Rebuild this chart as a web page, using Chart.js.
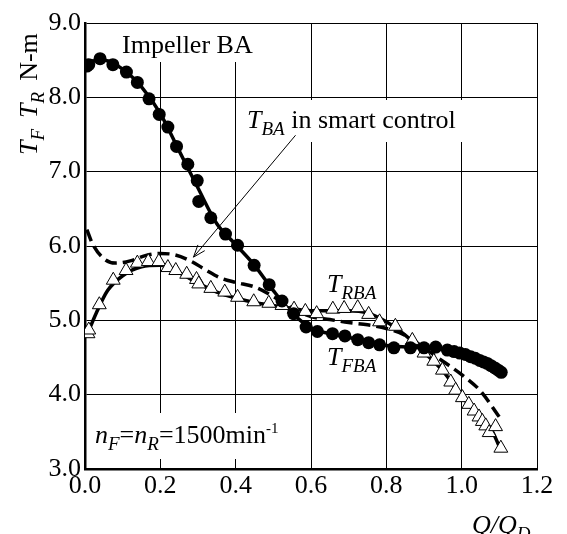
<!DOCTYPE html>
<html>
<head>
<meta charset="utf-8">
<script src="https://cdn.jsdelivr.net/npm/chart.js@4"></script>
<style>
  body { margin: 0; background: #fff; }
  #wrap { width: 567px; height: 534px; }
</style>
</head>
<body>
<div id="wrap"><canvas id="chart"></canvas></div>
<script>
// measured points, front impeller torque T_FBA (filled circles)
const tfQ = [0.005, 0.010, 0.040, 0.074, 0.110, 0.139, 0.170, 0.197, 0.220, 0.243, 0.273, 0.298, 0.302, 0.334, 0.373, 0.405, 0.449, 0.489, 0.523, 0.554, 0.587, 0.617, 0.657, 0.690, 0.724, 0.753, 0.782, 0.820, 0.864, 0.900, 0.931, 0.962, 0.980, 0.995, 1.010, 1.024, 1.036, 1.048, 1.058, 1.068, 1.078, 1.088, 1.097, 1.105];
const tfT = [8.42, 8.44, 8.52, 8.44, 8.34, 8.20, 7.98, 7.77, 7.60, 7.34, 7.10, 6.88, 6.60, 6.38, 6.16, 6.01, 5.74, 5.48, 5.26, 5.09, 4.91, 4.85, 4.82, 4.79, 4.74, 4.70, 4.67, 4.63, 4.63, 4.63, 4.64, 4.60, 4.58, 4.56, 4.54, 4.51, 4.49, 4.46, 4.44, 4.42, 4.39, 4.36, 4.33, 4.30];

// measured points, rear impeller torque T_RBA (open triangles)
const trQ = [0.008, 0.010, 0.038, 0.075, 0.109, 0.139, 0.168, 0.196, 0.220, 0.241, 0.270, 0.296, 0.302, 0.334, 0.371, 0.405, 0.448, 0.488, 0.523, 0.555, 0.585, 0.615, 0.658, 0.688, 0.724, 0.753, 0.782, 0.824, 0.869, 0.900, 0.926, 0.949, 0.971, 0.984, 1.002, 1.019, 1.033, 1.046, 1.055, 1.064, 1.073, 1.090, 1.104];
const trT = [4.82, 4.87, 5.21, 5.54, 5.67, 5.77, 5.79, 5.79, 5.71, 5.67, 5.62, 5.55, 5.49, 5.43, 5.38, 5.31, 5.25, 5.23, 5.20, 5.15, 5.12, 5.09, 5.15, 5.16, 5.17, 5.08, 4.98, 4.92, 4.73, 4.56, 4.45, 4.33, 4.17, 4.06, 3.96, 3.87, 3.78, 3.70, 3.64, 3.58, 3.49, 3.57, 3.28];

// fitted curves
const fitFQ = [0.0, 0.05, 0.1, 0.15, 0.2, 0.25, 0.3, 0.35, 0.4, 0.45, 0.5, 0.55, 0.6, 0.65, 0.7, 0.8, 0.9, 0.95, 1.0, 1.05, 1.1];
const fitFT = [8.48, 8.50, 8.38, 8.14, 7.78, 7.28, 6.78, 6.30, 6.02, 5.74, 5.40, 5.10, 4.90, 4.82, 4.77, 4.66, 4.63, 4.61, 4.55, 4.46, 4.31];
const fitRQ = [0.005, 0.03, 0.06, 0.1, 0.15, 0.2, 0.25, 0.3, 0.35, 0.4, 0.45, 0.5, 0.55, 0.6, 0.65, 0.7, 0.75, 0.8, 0.85, 0.9, 0.95, 1.0, 1.05, 1.08, 1.1];
const fitRT = [4.80, 5.10, 5.40, 5.60, 5.72, 5.74, 5.64, 5.50, 5.38, 5.30, 5.24, 5.20, 5.16, 5.13, 5.13, 5.13, 5.10, 4.98, 4.80, 4.57, 4.32, 3.98, 3.68, 3.52, 3.30];

// T_BA in smart control (dashed)
const smartQ = [0.005, 0.02, 0.05, 0.08, 0.12, 0.16, 0.2, 0.24, 0.28, 0.32, 0.36, 0.4, 0.45, 0.5, 0.55, 0.6, 0.65, 0.7, 0.75, 0.8, 0.85, 0.9, 0.95, 1.0, 1.05, 1.1];
const smartT = [6.22, 6.03, 5.83, 5.77, 5.80, 5.87, 5.90, 5.88, 5.80, 5.68, 5.57, 5.51, 5.45, 5.32, 5.16, 5.05, 5.01, 4.97, 4.94, 4.89, 4.80, 4.63, 4.45, 4.27, 4.05, 3.70];

const xTicks = [0, 0.2, 0.4, 0.6, 0.8, 1.0, 1.2];
const yTicks = [3, 4, 5, 6, 7, 8, 9];

const FONT = '"Liberation Serif", "Times New Roman", serif';
const pts = (xs, ys) => xs.map((x, i) => ({ x: x, y: ys[i] }));

// draw a run of text pieces (italic / subscript / superscript)
function drawRich(ctx, x, y, parts, rotate) {
  ctx.save();
  ctx.translate(x, y);
  if (rotate) ctx.rotate(-Math.PI / 2);
  ctx.fillStyle = '#000';
  ctx.textAlign = 'left';
  ctx.textBaseline = 'alphabetic';
  let cx = 0;
  parts.forEach(p => {
    const size = p.sub ? 19 : p.sup ? 15 : 26;
    const dy = p.sub ? 7 : p.sup ? -10 : 0;
    ctx.font = (p.it ? 'italic ' : '') + size + 'px ' + FONT;
    cx += p.gap || 0;
    ctx.fillText(p.t, cx, dy);
    cx += ctx.measureText(p.t).width;
  });
  ctx.restore();
}

const textPlugin = {
  id: 'textPlugin',
  beforeDatasetsDraw(chart) {
    const ctx = chart.ctx;
    ctx.save();
    ctx.fillStyle = '#fff';
    ctx.fillRect(110, 24, 155, 38);   // behind "Impeller BA"
    ctx.fillRect(240, 100, 222, 42);  // behind T_BA label
    ctx.fillRect(90, 413, 200, 46);   // behind speed label
    ctx.restore();
  },
  afterDatasetsDraw(chart) {
    const ctx = chart.ctx;
    const xs = chart.scales.x, ys = chart.scales.y;

    // arrow to the smart control curve
    const x0 = xs.getPixelForValue(0.559), y0 = ys.getPixelForValue(7.49);
    const x1 = xs.getPixelForValue(0.288), y1 = ys.getPixelForValue(5.85);
    const a = Math.atan2(y1 - y0, x1 - x0);
    ctx.save();
    ctx.strokeStyle = '#000';
    ctx.lineWidth = 1;
    ctx.beginPath();
    ctx.moveTo(x0, y0);
    ctx.lineTo(x1, y1);
    ctx.moveTo(x1 - 13 * Math.cos(a - 0.35), y1 - 13 * Math.sin(a - 0.35));
    ctx.lineTo(x1, y1);
    ctx.lineTo(x1 - 13 * Math.cos(a + 0.35), y1 - 13 * Math.sin(a + 0.35));
    ctx.stroke();
    ctx.restore();

    drawRich(ctx, 122, 53, [{ t: 'Impeller BA' }]);
    drawRich(ctx, 247, 128, [{ t: 'T', it: true }, { t: 'BA', it: true, sub: true }, { t: ' in smart control' }]);
    drawRich(ctx, 327, 292, [{ t: 'T', it: true }, { t: 'RBA', it: true, sub: true }]);
    drawRich(ctx, 327, 365, [{ t: 'T', it: true }, { t: 'FBA', it: true, sub: true }]);
    drawRich(ctx, 95, 443, [
      { t: 'n', it: true }, { t: 'F', it: true, sub: true }, { t: '=' },
      { t: 'n', it: true }, { t: 'R', it: true, sub: true }, { t: '=1500min' },
      { t: '-1', sup: true }
    ]);
    drawRich(ctx, 472, 533, [{ t: 'Q/Q', it: true }, { t: 'D', it: true, sub: true }]);
    drawRich(ctx, 37, 155, [
      { t: 'T', it: true }, { t: 'F', it: true, sub: true },
      { t: 'T', it: true, gap: 11 }, { t: 'R', it: true, sub: true },
      { t: 'N-m', gap: 11 }
    ], true);
  }
};

new Chart(document.getElementById('chart'), {
  type: 'scatter',
  data: {
    datasets: [
      {
        label: 'T_FBA',
        data: pts(tfQ, tfT),
        pointStyle: 'circle',
        pointRadius: 6.5,
        backgroundColor: '#000',
        borderColor: '#000',
        borderWidth: 0,
        showLine: false
      },
      {
        label: 'T_RBA',
        data: pts(trQ, trT),
        pointStyle: 'triangle',
        pointRadius: 8,
        backgroundColor: '#fff',
        borderColor: '#000',
        borderWidth: 1,
        showLine: false
      },
      {
        label: 'T_FBA fit',
        data: pts(fitFQ, fitFT),
        showLine: true,
        pointRadius: 0,
        borderColor: '#000',
        borderWidth: 3.5,
        cubicInterpolationMode: 'monotone'
      },
      {
        label: 'T_RBA fit',
        data: pts(fitRQ, fitRT),
        showLine: true,
        pointRadius: 0,
        borderColor: '#000',
        borderWidth: 3.5,
        cubicInterpolationMode: 'monotone'
      },
      {
        label: 'T_BA smart control',
        data: pts(smartQ, smartT),
        showLine: true,
        pointRadius: 0,
        borderColor: '#000',
        borderWidth: 3.5,
        borderDash: [12, 6],
        cubicInterpolationMode: 'monotone'
      }
    ]
  },
  options: {
    responsive: true,
    maintainAspectRatio: false,
    animation: false,
    layout: { padding: { left: 0, top: 23, right: 30, bottom: 0 } },
    plugins: {
      legend: { display: false },
      tooltip: { enabled: false }
    },
    scales: {
      x: {
        type: 'linear',
        min: 0,
        max: 1.2,
        afterBuildTicks: s => { s.ticks = xTicks.map(v => ({ value: v })); },
        afterFit: s => { s.height = 65; },
        ticks: {
          color: '#000',
          padding: 2,
          maxRotation: 0,
          font: { family: FONT, size: 26 },
          callback: v => v.toFixed(1)
        },
        grid: { color: '#000', lineWidth: 1, drawTicks: false },
        border: { color: '#000', width: 2.5 }
      },
      y: {
        type: 'linear',
        min: 3,
        max: 9,
        afterBuildTicks: s => { s.ticks = yTicks.map(v => ({ value: v })); },
        afterFit: s => { s.width = 85; },
        ticks: {
          color: '#000',
          padding: 4,
          font: { family: FONT, size: 26 },
          callback: v => v.toFixed(1)
        },
        grid: { color: '#000', lineWidth: 1, drawTicks: false },
        border: { color: '#000', width: 2.5 }
      }
    }
  },
  plugins: [textPlugin]
});
</script>
</body>
</html>
